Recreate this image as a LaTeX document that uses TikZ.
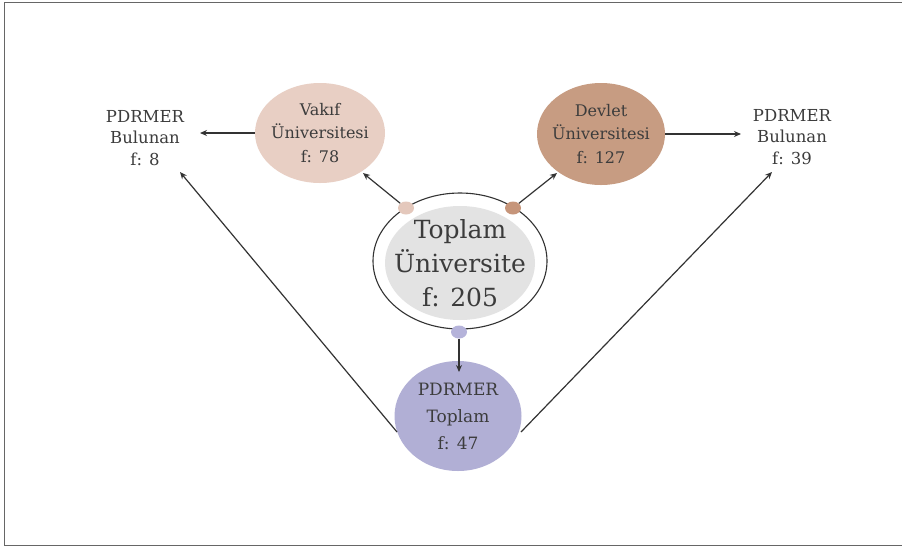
\documentclass[tikz,border=0pt]{standalone}
\usepackage{fontspec}
\setmainfont{DejaVu Serif}
\usetikzlibrary{shapes.geometric,arrows.meta}
\definecolor{txt}{HTML}{3C3C3C}
\definecolor{vakif}{HTML}{E8CFC4}
\definecolor{devlet}{HTML}{C79C82}
\definecolor{inner}{HTML}{E3E3E3}
\definecolor{pdr}{HTML}{B1AFD5}
\definecolor{dotA}{HTML}{E4C8BC}
\definecolor{dotB}{HTML}{C6957A}
\definecolor{dotC}{HTML}{B5B3DA}
\definecolor{linec}{HTML}{333333}
\tikzset{
  blob/.style={ellipse, draw=none, inner sep=-20pt, align=center, text=txt},
  smalltxt/.style={font=\fontsize{16}{23.5}\selectfont},
  sidetxt/.style={font=\fontsize{16.5}{21.5}\selectfont},
  pdrtxt/.style={font=\fontsize{17}{27}\selectfont},
  bigtxt/.style={font=\fontsize{25}{34}\selectfont},
  dotn/.style={ellipse, draw=none, minimum width=16pt, minimum height=13pt, inner sep=0pt},
  conn/.style={draw=linec, line width=1.2pt, -{Stealth[length=7pt,width=6pt]}},
}
\begin{document}
\begin{tikzpicture}[x=1pt,y=-1pt]
\useasboundingbox (0,0) rectangle (902,547);
\fill[white] (0,0) rectangle (902,547);
\draw[draw=gray!80!black, line width=1pt] (902,2) -- (4,2) -- (4,545) -- (902,545);
% central
\node[ellipse, draw=linec, line width=1.1pt, minimum width=174pt, minimum height=136pt] (outer) at (460,261) {};
\node[blob, fill=inner, minimum width=150pt, minimum height=114pt, bigtxt] (top) at (460,263) {Toplam\\Üniversite\\f: 205};
% upper nodes
\node[blob, fill=vakif, minimum width=130pt, minimum height=100pt, smalltxt] (vak) at (320,133) {Vakıf\\Üniversitesi\\f: 78};
\node[blob, fill=devlet, minimum width=128pt, minimum height=102pt, smalltxt] (dev) at (601,134) {Devlet\\Üniversitesi\\f: 127};
% bottom node
\node[blob, fill=pdr, minimum width=127pt, minimum height=110pt, pdrtxt] (pt) at (458,416) {PDRMER\\Toplam\\f: 47};
% side texts
\node[align=center, text=txt, sidetxt, inner sep=1pt] (lb) at (145,138) {PDRMER\\Bulunan\\f: 8};
\node[align=center, text=txt, sidetxt, inner sep=1pt] (rb) at (792,137) {PDRMER\\Bulunan\\f: 39};
% dots
\node[dotn, fill=dotA] (da) at (406,208) {};
\node[dotn, fill=dotB] (db) at (513,208) {};
\node[dotn, fill=dotC] (dc) at (459,332) {};
% connector endpoints
\coordinate (lbend) at (200,133);
\coordinate (rbend) at (741,134);
\coordinate (lbarr) at (180,172);
\coordinate (rbarr) at (772,172);
\coordinate (vakarr) at (363,173);
\coordinate (devarr) at (557,173);
\coordinate (ptarr) at (459,372);
\coordinate (pl) at (397,432);
\coordinate (pr) at (521,432);
% connectors
\draw[conn] (vak.west) -- (lbend);
\draw[conn] (dev.east) -- (rbend);
\draw[conn] (da) -- (vakarr);
\draw[conn] (db) -- (devarr);
\draw[conn] (dc.south) -- (ptarr);
\draw[conn] (pl) -- (lbarr);
\draw[conn] (pr) -- (rbarr);
\end{tikzpicture}
\end{document}
